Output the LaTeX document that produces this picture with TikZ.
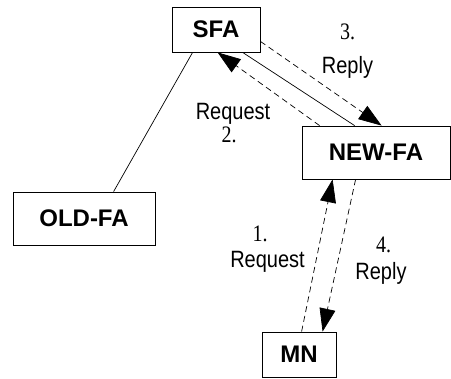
\documentclass[tikz,border=0pt]{standalone}
\usepackage{fontspec}
\setmainfont{Liberation Sans}
\newfontfamily\numfont{Liberation Serif}
\usetikzlibrary{arrows.meta,calc,positioning}

\newcommand{\tall}[1]{\scalebox{1}[1.18]{#1}}

\tikzset{
  agent/.style={draw, line width=0.8pt, inner sep=0pt,
    font=\fontsize{24}{28}\selectfont\bfseries},
  link/.style={line width=0.7pt},
  msg/.style={line width=0.7pt, dash pattern=on 6pt off 4pt,
    -{Triangle[length=23pt,width=16pt]}},
  lbl/.style={anchor=base, inner sep=0pt, font=\fontsize{20}{24}\selectfont},
  num/.style={lbl, font=\fontsize{20}{24}\selectfont\numfont},
}

\begin{document}
\begin{tikzpicture}[x=1pt,y=-1pt]
\useasboundingbox (0,0) rectangle (451,379);
% nodes
\node[agent, minimum width=88pt, minimum height=45pt] (sfa) at (216,29.5) {SFA};
\node[agent, minimum width=148pt, minimum height=53pt] (newfa) at (376,152.5) {NEW-FA};
\node[agent, minimum width=142pt, minimum height=53pt] (oldfa) at (84,218.5) {OLD-FA};
\node[agent, minimum width=74pt, minimum height=45pt] (mn) at (299,354.5) {MN};

% labels
\node[num] (num3) at (347.5,40) {\tall{3.}};
\node[lbl] (txt3) at (347.5,74) {\tall{Reply}};
\node[lbl] (txt2) at (233,120) {\tall{Request}};
\node[num] (num2) at (229,143) {\tall{2.}};
\node[num] (num1) at (260,242) {\tall{1.}};
\node[lbl] (txt1) at (267.5,268) {\tall{Request}};
\node[num] (num4) at (383.5,253) {\tall{4.}};
\node[lbl] (txt4) at (381,280) {\tall{Reply}};

% edges
\draw[link] ([xshift=21pt]sfa.south west) -- ([xshift=101pt]oldfa.north west);
\draw[link] ([xshift=71pt]sfa.south west) -- ([xshift=53pt]newfa.north west);
\draw[msg] ([yshift=11pt]sfa.south east) -- ([xshift=80pt]newfa.north west);
\draw[msg] ([xshift=18pt]newfa.north west) -- ([xshift=46pt]sfa.south west);
\draw[msg] ([xshift=40pt]mn.north west) -- ([xshift=31pt]newfa.south west);
\draw[msg] ([xshift=54pt]newfa.south west) -- ([xshift=61pt]mn.north west);
\end{tikzpicture}
\end{document}
